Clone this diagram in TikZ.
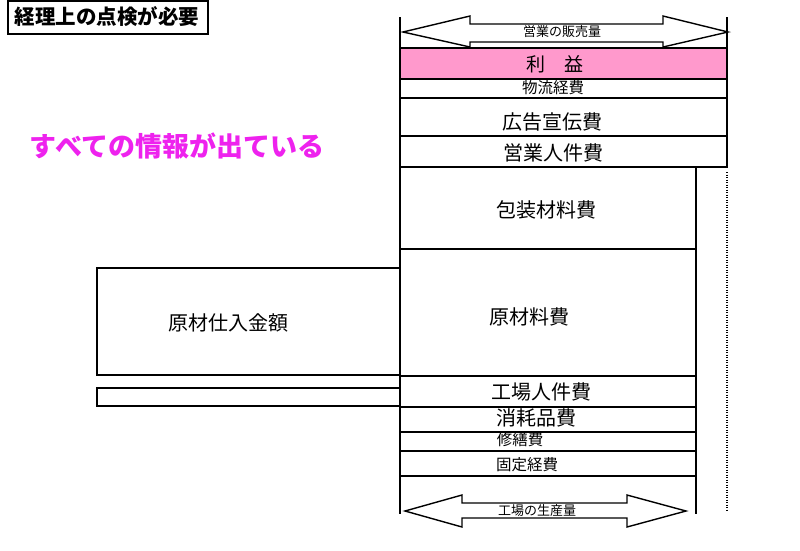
\documentclass[tikz,border=0pt]{standalone}
\usepackage{fontspec}
\newfontfamily\jp{Noto Sans CJK JP}
\definecolor{pinkc}{RGB}{255,153,204}
\definecolor{magc}{RGB}{238,34,238}
\begin{document}
\begin{tikzpicture}[x=1pt,y=-1pt,line width=1.5pt,
  box/.style={draw=black,line width=1.5pt},
  lab/.style={inner sep=0pt,font=\jp},
  harrow/.style={draw=black,fill=white,line width=1.4pt,line join=miter}]
\useasboundingbox (0,0) rectangle (800,550);
% main stack
\draw[box,fill=pinkc] (400,48) rectangle (727,79);
\draw[box] (400,79) rectangle (727,98);
\draw[box] (400,98) rectangle (727,136);
\draw[box] (400,136) rectangle (727,167);
\draw[box] (400,167) rectangle (696,249);
\draw[box] (400,249) rectangle (696,376);
\draw[box] (400,376) rectangle (696,407);
\draw[box] (400,407) rectangle (696,432);
\draw[box] (400,432) rectangle (696,451);
\draw[box] (400,451) rectangle (696,476);
\draw[box] (400,17) -- (400,514);
\draw[box] (727,17) -- (727,167);
\draw[box] (696,167) -- (696,514);
\draw[line width=1.6pt,dash pattern=on 1.2pt off 1.3pt] (727,172) -- (727,510);
% left boxes
\draw[box] (97,268) rectangle (400,375);
\draw[box] (97,388) rectangle (400,406);
% title box
\draw[line width=2pt] (8,1) rectangle (208,34);
% arrows
\draw[harrow] (403,32) -- (470,16) -- (470,24) -- (663,24) -- (663,16) -- (728,32)
  -- (663,47) -- (663,42) -- (470,42) -- (470,47) -- cycle;
\draw[harrow] (405,511) -- (462,495) -- (462,503) -- (627,503) -- (627,495) -- (686,511)
  -- (627,527) -- (627,518) -- (462,518) -- (462,527) -- cycle;
% labels
\node[lab,font=\jp\fontsize{13}{13}\selectfont] (t1) at (562,32) {営業の販売量};
\node[lab,font=\jp\fontsize{19}{19}\selectfont] (t2) at (555,64) {利　益};
\node[lab,font=\jp\fontsize{15.5}{15.5}\selectfont] (t3) at (553,88) {物流経費};
\node[lab,font=\jp\fontsize{20}{20}\selectfont] (t4) at (552,122) {広告宣伝費};
\node[lab,font=\jp\fontsize{20}{20}\selectfont] (t5) at (553,153) {営業人件費};
\node[lab,font=\jp\fontsize{20}{20}\selectfont] (t6) at (546,210) {包装材料費};
\node[lab,font=\jp\fontsize{20}{20}\selectfont] (t7) at (529,317) {原材料費};
\node[lab,font=\jp\fontsize{20}{20}\selectfont] (t8) at (228,323) {原材仕入金額};
\node[lab,font=\jp\fontsize{20}{20}\selectfont] (t9) at (541,392) {工場人件費};
\node[lab,font=\jp\fontsize{20}{20}\selectfont] (t10) at (536,418) {消耗品費};
\node[lab,font=\jp\fontsize{15.5}{15.5}\selectfont] (t11) at (520,440) {修繕費};
\node[lab,font=\jp\fontsize{15.5}{15.5}\selectfont] (t12) at (527,465) {固定経費};
\node[lab,font=\jp\fontsize{13}{13}\selectfont] (t13) at (537,511) {工場の生産量};
\node[lab,font=\jp\bfseries\fontsize{20.5}{20.5}\selectfont] (title) at (107,17) {経理上の点検が必要};
\node[lab,font=\jp\bfseries\fontsize{27}{27}\selectfont,text=magc] (msg) at (177,146) {すべての情報が出ている};
\end{tikzpicture}
\end{document}
